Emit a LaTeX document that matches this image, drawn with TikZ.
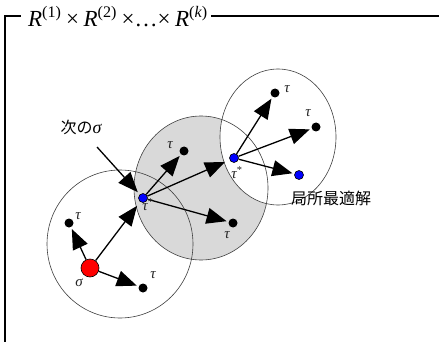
\documentclass[tikz,border=0pt]{standalone}
\usepackage{fontspec}
\newfontfamily\jp{Noto Sans CJK JP}
\newfontfamily\tms{Liberation Serif}
\usetikzlibrary{arrows.meta}
\begin{document}
\begin{tikzpicture}[x=1pt,y=-1pt,
 pt/.style={circle,fill=black,inner sep=0pt,minimum size=9pt},
 bpt/.style={circle,fill=blue,draw=black,line width=0.6pt,inner sep=0pt,minimum size=9pt},
 rpt/.style={circle,fill=red,draw=black,line width=0.6pt,inner sep=0pt,minimum size=18pt},
 arr/.style={line width=1.3pt,-{Triangle[length=20pt,width=16pt]},shorten >=2pt},
 ring/.style={draw=black!75,line width=0.6pt},
 lbl/.style={inner sep=0pt,text=black!85,font=\fontsize{15}{15}\selectfont\tms\itshape},
 jlbl/.style={inner sep=0pt,font=\fontsize{16}{16}\selectfont\jp},
 frame/.style={line width=1.5pt,draw=black},
]
\useasboundingbox (0,0) rectangle (439,342);
% regions
\fill[white] (120,244) ellipse [x radius=73pt, y radius=74pt];
\fill[black!15] (201,188) ellipse [x radius=67pt, y radius=72pt];
\fill[white] (278,137) ellipse [x radius=58pt, y radius=68pt];
\draw[ring] (120,244) ellipse [x radius=73pt, y radius=74pt];
\draw[ring] (201,188) ellipse [x radius=67pt, y radius=72pt];
\draw[ring] (278,137) ellipse [x radius=58pt, y radius=68pt];
% title and frame
\node[anchor=base west,inner sep=0pt,font=\fontsize{23}{27}\selectfont\tms] (title) at (28,27)
  {\textit{R}\textsuperscript{(1)}\hspace{0.2em}×\hspace{0.2em}\textit{R}\textsuperscript{(2)}\hspace{0.2em}×…×\hspace{0.2em}\textit{R}\textsuperscript{(\textit{k})}};
\draw[frame] (5,342) -- (5,16) -- (21,16);
\draw[frame] ([xshift=3pt]title.east |- 0,16) -- (439,16);
% points
\node[rpt] (s) at (90,268) {};
\node[pt] (t1) at (69,223) {};
\node[pt] (t2) at (143,288) {};
\node[bpt] (b1) at (143,198) {};
\node[pt] (t3) at (184,151) {};
\node[pt] (t4) at (233,223) {};
\node[bpt] (b2) at (234,158) {};
\node[pt] (t5) at (275,93) {};
\node[pt] (t6) at (316,127) {};
\node[bpt] (b3) at (299,175) {};
\coordinate (n) at (97,147);
% arrows
\draw[arr] (s) -- (t1);
\draw[arr] (s) -- (t2);
\draw[arr,shorten >=5pt] (s) -- (b1);
\draw[arr,shorten >=3pt] (n) -- (b1);
\draw[arr] (b1) -- (t3);
\draw[arr,shorten >=5pt] (b1) -- (b2);
\draw[arr] (b1) -- (t4);
\draw[arr] (b2) -- (t5);
\draw[arr] (b2) -- (t6);
\draw[arr] (b2) -- (b3);
% labels
\node[lbl] (ls) at (79,283) {σ};
\node[lbl] (l1) at (78,216) {τ};
\node[lbl] (l2) at (153,275) {τ};
\node[lbl] (l3) at (170,145) {τ};
\node[lbl] (l4) at (227,235) {τ};
\node[lbl] (l5) at (287,89) {τ};
\node[lbl] (l6) at (308,113) {τ};
\node[lbl] (lb1) at (148,205) {τ\textsuperscript{\upshape*}};
\node[lbl] (lb2) at (237,173) {τ\textsuperscript{\upshape*}};
\node[jlbl] (next) at (81,127) {次の{\tms\itshape\fontsize{18}{18}\selectfont σ}};
\node[jlbl] (loc) at (331,198) {局所最適解};
\end{tikzpicture}
\end{document}
